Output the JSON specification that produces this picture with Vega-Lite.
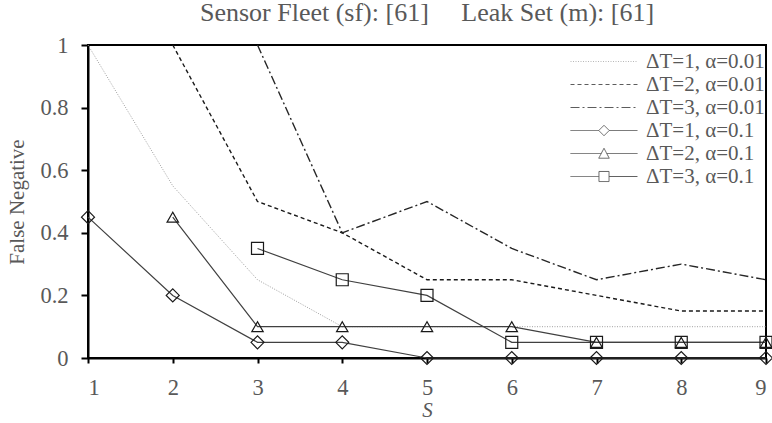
{
  "$schema": "https://vega.github.io/schema/vega-lite/v6.json",
  "width": 678,
  "height": 313,
  "autosize": {"type": "none"},
  "padding": {"left": 88, "top": 45, "right": 6, "bottom": 65},
  "background": "white",
  "title": {
    "text": "Sensor Fleet (sf): [61]\u00a0\u00a0\u00a0\u00a0 Leak Set (m): [61]",
    "font": "Liberation Serif",
    "fontSize": 26,
    "fontWeight": "normal",
    "color": "#595959",
    "anchor": "middle",
    "dx": 0,
    "offset": 8
  },
  "config": {
    "view": {"stroke": "black", "strokeWidth": 2},
    "axis": {
      "grid": false,
      "domainColor": "black",
      "domainWidth": 2,
      "tickColor": "black",
      "tickWidth": 2,
      "labelFont": "Liberation Serif",
      "labelFontSize": 22.5,
      "labelColor": "#595959",
      "titleFont": "Liberation Serif",
      "titleFontSize": 21,
      "titleFontWeight": "normal",
      "titleColor": "#595959"
    }
  },
  "data": {
    "values": [
      {"S": 1, "FN": 1.0, "series": "ΔT=1, α=0.01"},
      {"S": 2, "FN": 0.55, "series": "ΔT=1, α=0.01"},
      {"S": 3, "FN": 0.25, "series": "ΔT=1, α=0.01"},
      {"S": 4, "FN": 0.1, "series": "ΔT=1, α=0.01"},
      {"S": 5, "FN": 0.1, "series": "ΔT=1, α=0.01"},
      {"S": 6, "FN": 0.1, "series": "ΔT=1, α=0.01"},
      {"S": 7, "FN": 0.1, "series": "ΔT=1, α=0.01"},
      {"S": 8, "FN": 0.1, "series": "ΔT=1, α=0.01"},
      {"S": 9, "FN": 0.1, "series": "ΔT=1, α=0.01"},
      {"S": 2, "FN": 1.0, "series": "ΔT=2, α=0.01"},
      {"S": 3, "FN": 0.5, "series": "ΔT=2, α=0.01"},
      {"S": 4, "FN": 0.4, "series": "ΔT=2, α=0.01"},
      {"S": 5, "FN": 0.25, "series": "ΔT=2, α=0.01"},
      {"S": 6, "FN": 0.25, "series": "ΔT=2, α=0.01"},
      {"S": 7, "FN": 0.2, "series": "ΔT=2, α=0.01"},
      {"S": 8, "FN": 0.15, "series": "ΔT=2, α=0.01"},
      {"S": 9, "FN": 0.15, "series": "ΔT=2, α=0.01"},
      {"S": 3, "FN": 1.0, "series": "ΔT=3, α=0.01"},
      {"S": 4, "FN": 0.4, "series": "ΔT=3, α=0.01"},
      {"S": 5, "FN": 0.5, "series": "ΔT=3, α=0.01"},
      {"S": 6, "FN": 0.35, "series": "ΔT=3, α=0.01"},
      {"S": 7, "FN": 0.25, "series": "ΔT=3, α=0.01"},
      {"S": 8, "FN": 0.3, "series": "ΔT=3, α=0.01"},
      {"S": 9, "FN": 0.25, "series": "ΔT=3, α=0.01"},
      {"S": 1, "FN": 0.45, "series": "ΔT=1, α=0.1"},
      {"S": 2, "FN": 0.2, "series": "ΔT=1, α=0.1"},
      {"S": 3, "FN": 0.05, "series": "ΔT=1, α=0.1"},
      {"S": 4, "FN": 0.05, "series": "ΔT=1, α=0.1"},
      {"S": 5, "FN": 0.0, "series": "ΔT=1, α=0.1"},
      {"S": 6, "FN": 0.0, "series": "ΔT=1, α=0.1"},
      {"S": 7, "FN": 0.0, "series": "ΔT=1, α=0.1"},
      {"S": 8, "FN": 0.0, "series": "ΔT=1, α=0.1"},
      {"S": 9, "FN": 0.0, "series": "ΔT=1, α=0.1"},
      {"S": 2, "FN": 0.45, "series": "ΔT=2, α=0.1"},
      {"S": 3, "FN": 0.1, "series": "ΔT=2, α=0.1"},
      {"S": 4, "FN": 0.1, "series": "ΔT=2, α=0.1"},
      {"S": 5, "FN": 0.1, "series": "ΔT=2, α=0.1"},
      {"S": 6, "FN": 0.1, "series": "ΔT=2, α=0.1"},
      {"S": 7, "FN": 0.05, "series": "ΔT=2, α=0.1"},
      {"S": 8, "FN": 0.05, "series": "ΔT=2, α=0.1"},
      {"S": 9, "FN": 0.05, "series": "ΔT=2, α=0.1"},
      {"S": 3, "FN": 0.35, "series": "ΔT=3, α=0.1"},
      {"S": 4, "FN": 0.25, "series": "ΔT=3, α=0.1"},
      {"S": 5, "FN": 0.2, "series": "ΔT=3, α=0.1"},
      {"S": 6, "FN": 0.05, "series": "ΔT=3, α=0.1"},
      {"S": 7, "FN": 0.05, "series": "ΔT=3, α=0.1"},
      {"S": 8, "FN": 0.05, "series": "ΔT=3, α=0.1"},
      {"S": 9, "FN": 0.05, "series": "ΔT=3, α=0.1"}
    ]
  },
  "encoding": {
    "x": {
      "field": "S",
      "type": "quantitative",
      "scale": {"domain": [1, 9], "nice": false, "zero": false},
      "axis": {"values": [1, 2, 3, 4, 5, 6, 7, 8, 9], "tickSize": 5, "labelPadding": 13, "title": "S", "titleFontStyle": "italic", "titlePadding": 1}
    },
    "y": {
      "field": "FN",
      "type": "quantitative",
      "scale": {"domain": [0, 1], "nice": false},
      "axis": {"values": [0, 0.2, 0.4, 0.6, 0.8, 1], "format": "~g", "tickSize": 7, "labelPadding": 13, "title": "False Negative", "titlePadding": 12}
    }
  },
  "layer": [
    {
      "transform": [{"filter": {"field": "series", "equal": "ΔT=1, α=0.01"}}],
      "mark": {"type": "line", "clip": false, "stroke": "#a0a0a0", "strokeWidth": 1, "strokeDash": [1, 1.5]}
    },
    {
      "transform": [{"filter": {"field": "series", "equal": "ΔT=2, α=0.01"}}],
      "mark": {"type": "line", "clip": false, "stroke": "#1a1a1a", "strokeWidth": 1.4, "strokeDash": [4, 3]}
    },
    {
      "transform": [{"filter": {"field": "series", "equal": "ΔT=3, α=0.01"}}],
      "mark": {"type": "line", "clip": false, "stroke": "#262626", "strokeWidth": 1.4, "strokeDash": [9, 3, 2, 3]}
    },
    {
      "transform": [{"filter": {"field": "series", "oneOf": ["ΔT=1, α=0.1", "ΔT=2, α=0.1", "ΔT=3, α=0.1"]}}],
      "mark": {"type": "line", "clip": false, "stroke": "#404040", "strokeWidth": 1.2},
      "encoding": {"detail": {"field": "series", "type": "nominal"}}
    },
    {
      "transform": [{"filter": {"field": "series", "equal": "ΔT=1, α=0.1"}}],
      "mark": {"type": "point", "shape": "diamond", "size": 169, "filled": false, "stroke": "#1a1a1a", "strokeWidth": 1.2, "opacity": 1, "clip": false}
    },
    {
      "transform": [{"filter": {"field": "series", "equal": "ΔT=2, α=0.1"}}],
      "mark": {"type": "point", "shape": "triangle-up", "size": 130, "filled": false, "stroke": "#1a1a1a", "strokeWidth": 1.2, "opacity": 1, "clip": false}
    },
    {
      "transform": [{"filter": {"field": "series", "equal": "ΔT=3, α=0.1"}}],
      "mark": {"type": "point", "shape": "square", "size": 144, "filled": false, "stroke": "#1a1a1a", "strokeWidth": 1.2, "opacity": 1, "clip": false}
    },
    {
      "mark": {"type": "point", "filled": false, "strokeOpacity": 0},
      "encoding": {
        "shape": {
          "field": "series", "type": "nominal",
          "scale": {
            "domain": ["ΔT=1, α=0.01", "ΔT=2, α=0.01", "ΔT=3, α=0.01", "ΔT=1, α=0.1", "ΔT=2, α=0.1", "ΔT=3, α=0.1"],
            "range": [
              "M-3.19,0H3.19",
              "M-3.19,0H3.19",
              "M-3.19,0H3.19",
              "M-3.19,0H-0.5M0.5,0H3.19M-0.5,0L0,-0.5L0.5,0L0,0.5Z",
              "M-3.19,0H-0.26M0.26,0H3.19M-0.5,0.45L0,-0.5L0.5,0.45Z",
              "M-3.19,0H-0.48M0.48,0H3.19M-0.48,-0.48H0.48V0.48H-0.48Z"
            ]
          },
          "legend": {
            "title": null,
            "orient": "none",
            "legendX": 482,
            "legendY": 5.5,
            "padding": 0,
            "symbolSize": 441,
            "symbolOffset": 23,
            "symbolStrokeWidth": 1,
            "symbolFillColor": "transparent",
            "rowPadding": 2,
            "labelOffset": 31,
            "labelFont": "Liberation Serif",
            "labelFontSize": 21,
            "labelColor": "#595959",
            "labelLimit": 300,
            "encode": {
              "symbols": {
                "strokeOpacity": {"value": 1}
              }
            }
          }
        },
        "stroke": {
          "field": "series", "type": "nominal",
          "scale": {
            "domain": ["ΔT=1, α=0.01", "ΔT=2, α=0.01", "ΔT=3, α=0.01", "ΔT=1, α=0.1", "ΔT=2, α=0.1", "ΔT=3, α=0.1"],
            "range": ["#9a9a9a", "#1a1a1a", "#1a1a1a", "#1a1a1a", "#1a1a1a", "#1a1a1a"]
          }
        },
        "strokeDash": {
          "field": "series", "type": "nominal",
          "scale": {
            "domain": ["ΔT=1, α=0.01", "ΔT=2, α=0.01", "ΔT=3, α=0.01", "ΔT=1, α=0.1", "ΔT=2, α=0.1", "ΔT=3, α=0.1"],
            "range": [[1, 1.5], [4, 3], [9, 3, 2, 3], [1, 0], [1, 0], [1, 0]]
          }
        }
      }
    }
  ]
}
